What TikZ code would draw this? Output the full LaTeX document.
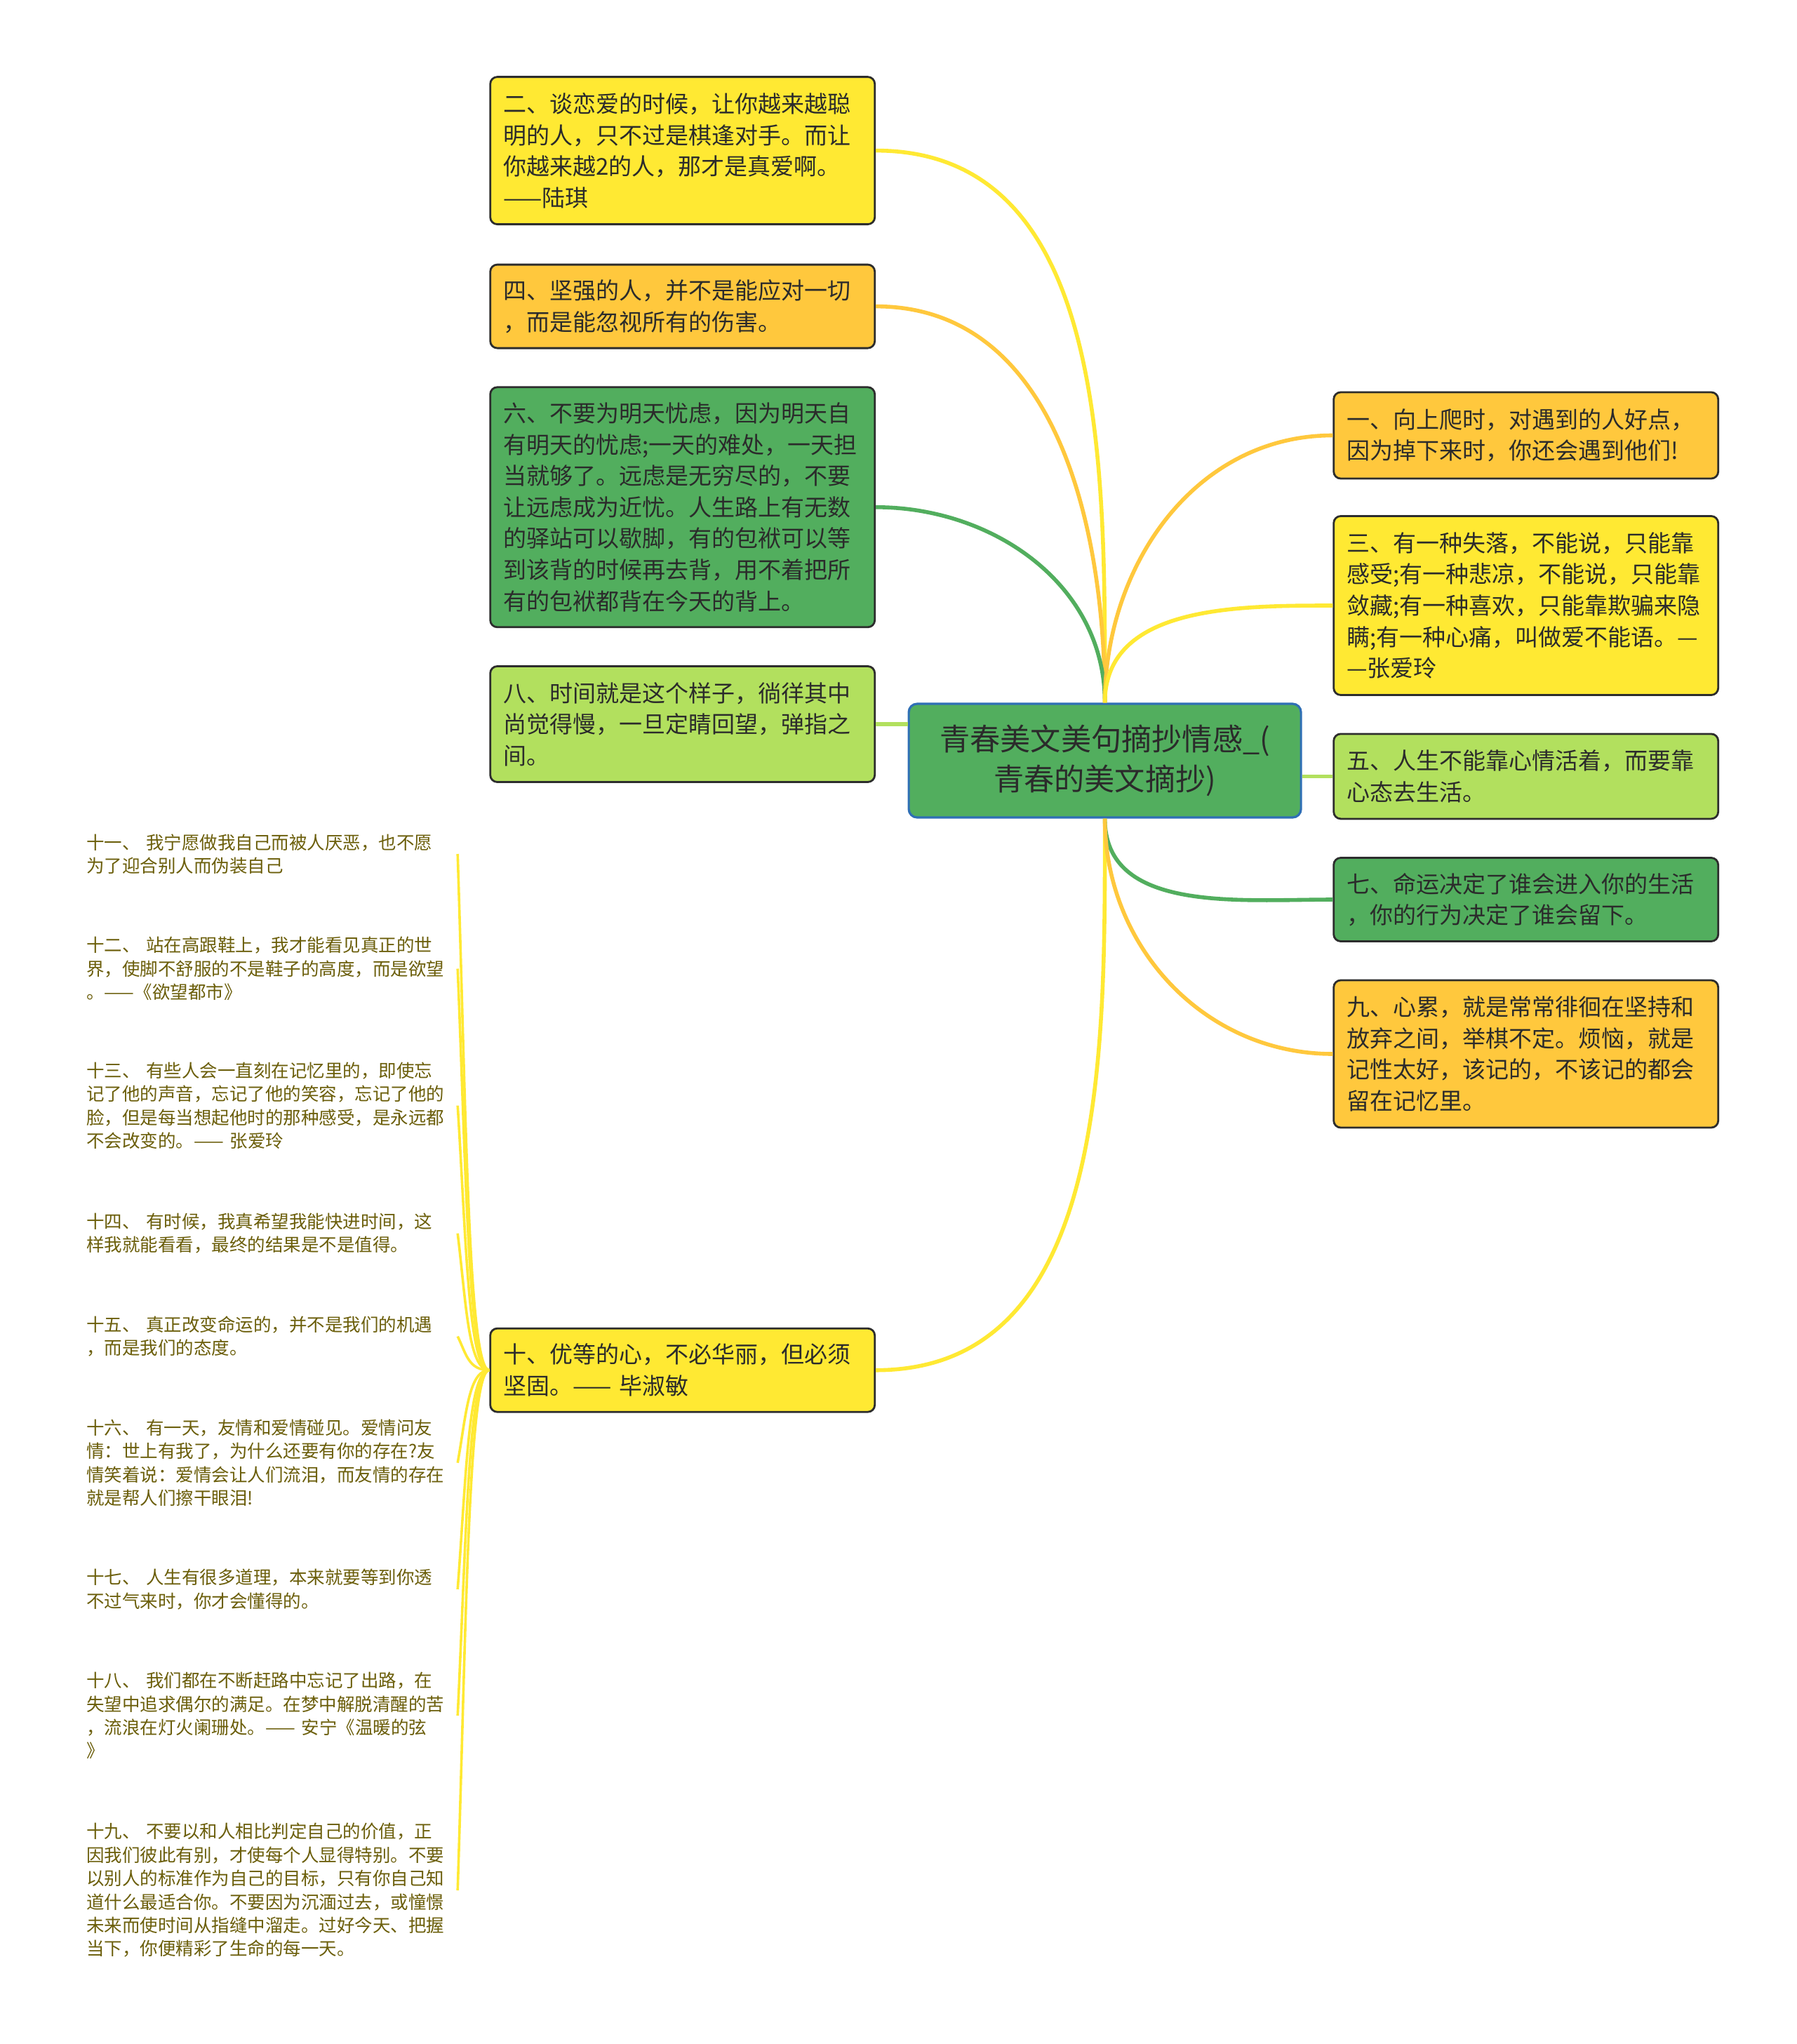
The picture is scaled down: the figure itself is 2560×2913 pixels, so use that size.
\documentclass[tikz,border=0pt]{standalone}
\usepackage{fontspec}
\usetikzlibrary{calc}
\setmainfont{Noto Sans CJK SC}
\definecolor{mmyellow}{HTML}{FFE933}
\definecolor{mmorange}{HTML}{FFC83D}
\definecolor{mmgreen}{HTML}{52AE5E}
\definecolor{mmlime}{HTML}{B2E05E}
\definecolor{mmborder}{HTML}{2D2D2D}
\definecolor{mmblue}{HTML}{2F6FB5}
\definecolor{mmtext}{HTML}{2B2B2B}
\definecolor{mmleaf}{HTML}{6B5E0A}
\begin{document}
\begin{tikzpicture}[x=0.25pt, y=-0.25pt,
    box/.style={draw=mmborder, line width=0.7pt, rounded corners=2.5pt, text=mmtext,
        text width=127.7pt, inner xsep=4.65pt, inner ysep=3pt, align=left,
        font=\fontsize{8.25pt}{11.15pt}\selectfont},
    leaf/.style={anchor=west, text=mmleaf, text width=132pt, inner sep=0pt, align=left,
        font=\fontsize{6.375pt}{8.35pt}\selectfont},
    branch/.style={line width=1.4pt},
    twig/.style={line width=0.9pt, draw=mmyellow}]
    \path[use as bounding box, fill=white] (0,0) rectangle (2560,2913);

    \node[draw=mmblue, line width=0.8pt, fill=mmgreen, rounded corners=3pt, text=mmtext,
        minimum width=139.75pt, minimum height=40.5pt, align=center,
        font=\fontsize{10.8pt}{14.4pt}\selectfont] (root) at (1574.6,1084)
        {青春美文美句摘抄情感\_(\\青春的美文摘抄)};

    % left side
    \node[box, fill=mmyellow, minimum height=52.5pt] (b2) at (972.7,214.6)
        {二、谈恋爱的时候，让你越来越聪\\明的人，只不过是棋逢对手。而让\\你越来越2的人，那才是真爱啊。\\——陆琪};
    \node[box, fill=mmorange, minimum height=29.75pt] (b4) at (972.7,436.6)
        {四、坚强的人，并不是能应对一切\\，而是能忽视所有的伤害。};
    \node[box, fill=mmgreen, minimum height=85.5pt] (b6) at (972.7,722.8)
        {六、不要为明天忧虑，因为明天自\\有明天的忧虑;一天的难处，一天担\\当就够了。远虑是无穷尽的，不要\\让远虑成为近忧。人生路上有无数\\的驿站可以歇脚，有的包袱可以等\\到该背的时候再去背，用不着把所\\有的包袱都背在今天的背上。};
    \node[box, fill=mmlime, minimum height=41.25pt] (b8) at (972.7,1032)
        {八、时间就是这个样子，徜徉其中\\尚觉得慢，一旦定睛回望，弹指之\\间。};
    \node[box, fill=mmyellow, minimum height=29.75pt] (b10) at (972.7,1952.7)
        {十、优等的心，不必华丽，但必须\\坚固。—— 毕淑敏};

    % right side
    \node[box, fill=mmorange, minimum height=30.75pt] (b1) at (2174.7,620.5)
        {一、向上爬时，对遇到的人好点，\\因为掉下来时，你还会遇到他们!};
    \node[box, fill=mmyellow, minimum height=63.75pt] (b3) at (2174.7,863)
        {三、有一种失落，不能说，只能靠\\感受;有一种悲凉，不能说，只能靠\\敛藏;有一种喜欢，只能靠欺骗来隐\\瞒;有一种心痛，叫做爱不能语。—\\—张爱玲};
    \node[box, fill=mmlime, minimum height=30.25pt] (b5) at (2174.7,1106.4)
        {五、人生不能靠心情活着，而要靠\\心态去生活。};
    \node[box, fill=mmgreen, minimum height=29.75pt] (b7) at (2174.7,1282)
        {七、命运决定了谁会进入你的生活\\，你的行为决定了谁会留下。};
    \node[box, fill=mmorange, minimum height=52.5pt] (b9) at (2174.7,1502)
        {九、心累，就是常常徘徊在坚持和\\放弃之间，举棋不定。烦恼，就是\\记性太好，该记的，不该记的都会\\留在记忆里。};

    % leaves of 十
    \node[leaf] (l11) at (122.6,1217)
        {十一、 我宁愿做我自己而被人厌恶，也不愿\\为了迎合别人而伪装自己};
    \node[leaf] (l12) at (122.6,1380.5)
        {十二、 站在高跟鞋上，我才能看见真正的世\\界，使脚不舒服的不是鞋子的高度，而是欲望\\。——《欲望都市》};
    \node[leaf] (l13) at (122.6,1575.6)
        {十三、 有些人会一直刻在记忆里的，即使忘\\记了他的声音，忘记了他的笑容，忘记了他的\\脸，但是每当想起他时的那种感受，是永远都\\不会改变的。—— 张爱玲};
    \node[leaf] (l14) at (122.6,1757.7)
        {十四、 有时候，我真希望我能快进时间，这\\样我就能看看，最终的结果是不是值得。};
    \node[leaf] (l15) at (122.6,1904.5)
        {十五、 真正改变命运的，并不是我们的机遇\\，而是我们的态度。};
    \node[leaf] (l16) at (122.6,2084.7)
        {十六、 有一天，友情和爱情碰见。爱情问友\\情：世上有我了，为什么还要有你的存在?友\\情笑着说：爱情会让人们流泪，而友情的存在\\就是帮人们擦干眼泪!};
    \node[leaf] (l17) at (122.6,2264.9)
        {十七、 人生有很多道理，本来就要等到你透\\不过气来时，你才会懂得的。};
    \node[leaf] (l18) at (122.6,2445)
        {十八、 我们都在不断赶路中忘记了出路，在\\失望中追求偶尔的满足。在梦中解脱清醒的苦\\，流浪在灯火阑珊处。—— 安宁《温暖的弦\\》};
    \node[leaf] (l19) at (122.6,2694)
        {十九、 不要以和人相比判定自己的价值，正\\因我们彼此有别，才使每个人显得特别。不要\\以别人的标准作为自己的目标，只有你自己知\\道什么最适合你。不要因为沉湎过去，或憧憬\\未来而使时间从指缝中溜走。过好今天、把握\\当下，你便精彩了生命的每一天。};

    \draw[branch, mmyellow] (root.north) to[out=90,in=0] (b2.east);
    \draw[branch, mmorange] (root.north) to[out=90,in=0] (b4.east);
    \draw[branch, mmgreen] (root.north) to[out=90,in=0] (b6.east);
    \draw[branch, mmlime] (b8.east) -- (b8.east -| root.west);
    \draw[branch, mmyellow] (root.south) to[out=-90,in=0] (b10.east);
    \draw[branch, mmorange] (root.north) to[out=90,in=180] (b1.west);
    \draw[branch, mmyellow] (root.north) to[out=90,in=180] (b3.west);
    \draw[branch, mmlime] (b5.west) -- (b5.west -| root.east);
    \draw[branch, mmgreen] (root.south) to[out=-90,in=180] (b7.west);
    \draw[branch, mmorange] (root.south) to[out=-90,in=180] (b9.west);

    \foreach \n in {11,...,19}
        \draw[twig] (b10.west) .. controls ($(b10.west)+(-30,0)$)
            and ($(l\n.east)!0.5!(l\n.east |- b10.west)+(12,0)$) .. (l\n.east);
\end{tikzpicture}
\end{document}
